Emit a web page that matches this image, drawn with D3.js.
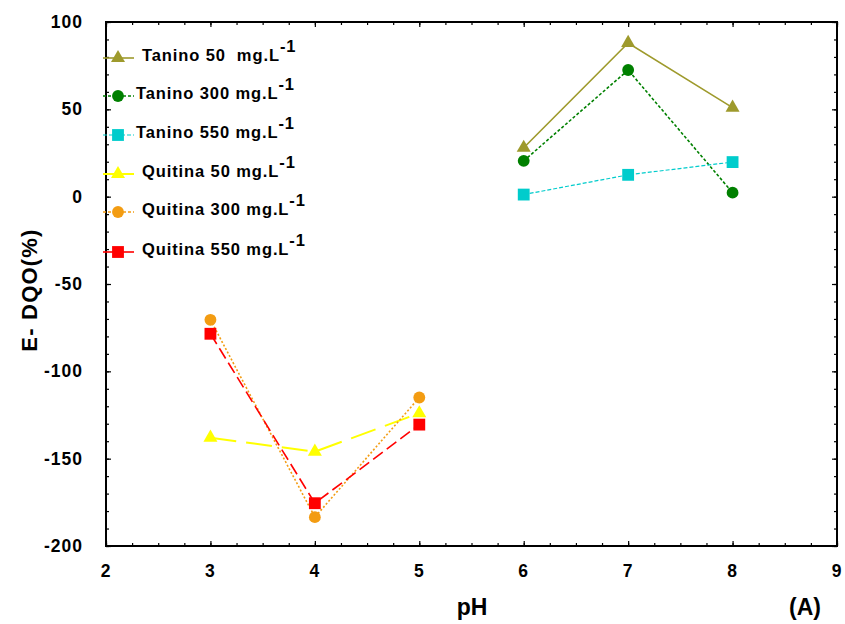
<!DOCTYPE html>
<html>
<head>
<script src="https://d3js.org/d3.v7.min.js"></script>
<style>
body { margin: 0; background: #fff; }
text { font-family: 'Liberation Sans', Arial, sans-serif; font-weight: bold; white-space: pre; }
</style>
</head>
<body>
<svg id="svg"></svg>
<script>
const seriesNames = ["Tanino 50  mg.L", "Tanino 300 mg.L", "Tanino 550 mg.L", "Quitina 50 mg.L", "Quitina 300 mg.L", "Quitina 550 mg.L"];
const taninoPH = [6, 7, 8];
const quitinaPH = [3, 4, 5];
const tanino50 = [28, 88, 51];
const tanino300 = [20.5, 72.5, 2.3];
const tanino550 = [1.2, 12.5, 19.8];
const quitina50 = [-138, -146, -124];
const quitina300 = [-70.5, -183.5, -115];
const quitina550 = [-78.5, -175.5, -130.5];
const xTicks = [2, 3, 4, 5, 6, 7, 8, 9];
const yTicks = [-200, -150, -100, -50, 0, 50, 100];

const series = [
  {name: seriesNames[0], x: taninoPH, y: tanino50, color: "#9e9a2c", dash: null, ldash: null, w: 1.6, sym: d3.symbolTriangle, size: 85, lx: 142},
  {name: seriesNames[1], x: taninoPH, y: tanino300, color: "#008000", dash: "3,2", ldash: "3,2", w: 1.6, sym: d3.symbolCircle, size: 110, lx: 136},
  {name: seriesNames[2], x: taninoPH, y: tanino550, color: "#00cccc", dash: "4,2", ldash: "4,2", w: 1.2, sym: d3.symbolSquare, size: 140, lx: 136},
  {name: seriesNames[3], x: quitinaPH, y: quitina50, color: "#ffff00", dash: "26,10", ldash: null, w: 2, sym: d3.symbolTriangle, size: 85, lx: 142},
  {name: seriesNames[4], x: quitinaPH, y: quitina300, color: "#f39c12", dash: "2,2", ldash: "3,2", w: 1.6, sym: d3.symbolCircle, size: 110, lx: 142},
  {name: seriesNames[5], x: quitinaPH, y: quitina550, color: "#ff0000", dash: "12,5", ldash: null, w: 1.6, sym: d3.symbolSquare, size: 140, lx: 142}
];

const width = 845, height = 624;
const svg = d3.select("#svg").attr("width", width).attr("height", height);

const x = d3.scaleLinear().domain([2, 9]).range([106, 837]);
const y = d3.scaleLinear().domain([-200, 100]).range([546, 22]);

// small inward ticks on all four sides
const xMinor = d3.range(2, 9.001, 0.25);
const yMinor = d3.range(-200, 100.001, 10);
function tickAxis(axis, tr) {
  const g = svg.append("g").attr("transform", tr).call(axis);
  g.select(".domain").remove();
  g.selectAll("text").remove();
  g.selectAll("line").attr("stroke", "#000").attr("stroke-width", 1.2);
}
tickAxis(d3.axisBottom(x).tickValues(xMinor).tickSize(-3), "translate(0,546)");
tickAxis(d3.axisBottom(x).tickValues(xTicks).tickSize(-5), "translate(0,546)");
tickAxis(d3.axisTop(x).tickValues(xMinor).tickSize(-3), "translate(0,22)");
tickAxis(d3.axisTop(x).tickValues(xTicks).tickSize(-5), "translate(0,22)");
tickAxis(d3.axisLeft(y).tickValues(yMinor).tickSize(-3), "translate(106,0)");
tickAxis(d3.axisLeft(y).tickValues(yTicks).tickSize(-5), "translate(106,0)");
tickAxis(d3.axisRight(y).tickValues(yMinor).tickSize(-3), "translate(837,0)");
tickAxis(d3.axisRight(y).tickValues(yTicks).tickSize(-5), "translate(837,0)");

// frame
svg.append("rect")
  .attr("x", 106).attr("y", 22)
  .attr("width", 731).attr("height", 524)
  .attr("fill", "none").attr("stroke", "#000").attr("stroke-width", 2);

// tick labels
svg.append("g").selectAll("text").data(xTicks).join("text")
  .attr("x", d => x(d)).attr("y", 577)
  .attr("text-anchor", "middle").attr("font-size", 17.5).attr("letter-spacing", 1)
  .text(d => d);
svg.append("g").selectAll("text").data(yTicks).join("text")
  .attr("x", 83).attr("y", d => y(d) + 6)
  .attr("text-anchor", "end").attr("font-size", 17.5).attr("letter-spacing", 1)
  .text(d => d);

// axis titles
svg.append("text").attr("x", 472).attr("y", 615).attr("text-anchor", "middle")
  .attr("font-size", 23).text("pH");
svg.append("text").attr("x", 805).attr("y", 615).attr("text-anchor", "middle")
  .attr("font-size", 23).text("(A)");
svg.append("text").attr("transform", "translate(37,290) rotate(-90)")
  .attr("text-anchor", "middle").attr("font-size", 22).attr("letter-spacing", 1.2).text("E- DQO(%)");

// series
const line = d3.line().x(d => x(d[0])).y(d => y(d[1]));
series.forEach(s => {
  const pts = s.x.map((v, i) => [v, s.y[i]]);
  svg.append("path").datum(pts)
    .attr("d", line).attr("fill", "none")
    .attr("stroke", s.color).attr("stroke-width", s.w)
    .attr("stroke-dasharray", s.dash);
  svg.append("g").selectAll("path").data(pts).join("path")
    .attr("transform", d => `translate(${x(d[0])},${y(d[1])})`)
    .attr("d", d3.symbol().type(s.sym).size(s.size))
    .attr("fill", s.color);
});

// legend
const legY = [58, 96, 135, 174, 212, 252];
series.forEach((s, i) => {
  const g = svg.append("g").attr("transform", `translate(0,${legY[i]})`);
  g.append("line").attr("x1", 103).attr("x2", 134).attr("y1", 0).attr("y2", 0)
    .attr("stroke", s.color).attr("stroke-width", s.w)
    .attr("stroke-dasharray", s.ldash);
  g.append("path").attr("transform", "translate(118,0)")
    .attr("d", d3.symbol().type(s.sym).size(s.size)).attr("fill", s.color);
  const t = g.append("text").attr("x", s.lx).attr("y", 3).attr("font-size", 16.5).attr("letter-spacing", 0.9);
  t.append("tspan").text(s.name);
  t.append("tspan").attr("dy", -9).text("-1");
});
</script>
</body>
</html>
